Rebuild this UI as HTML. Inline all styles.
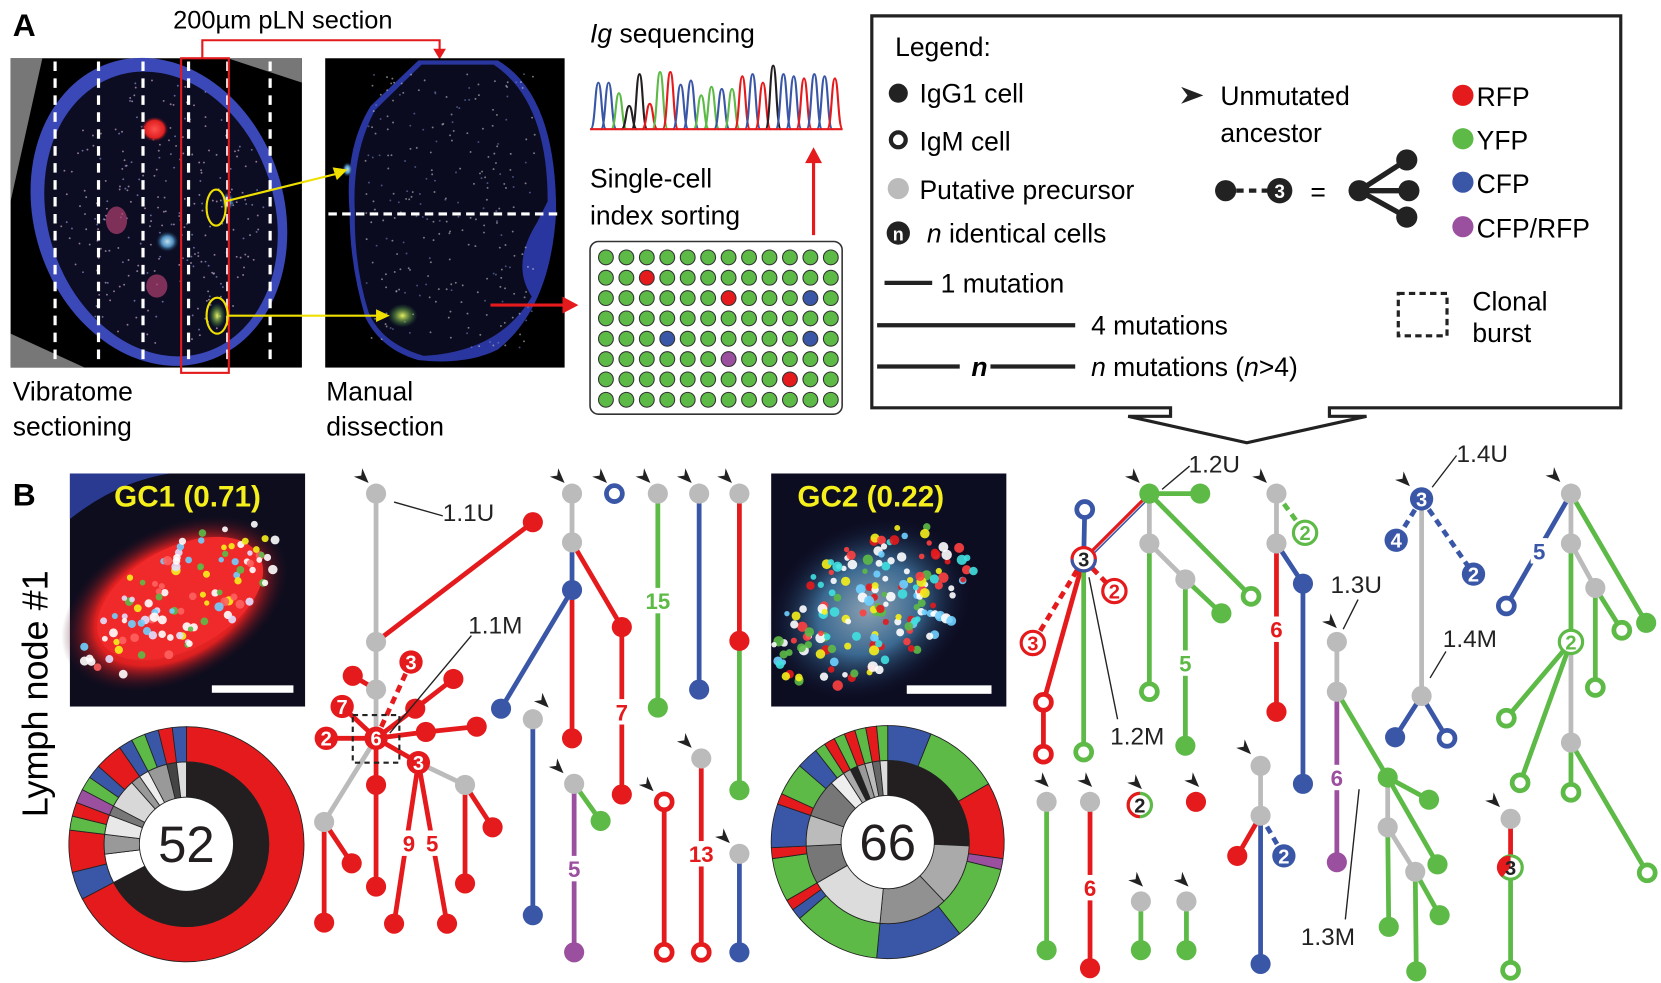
<!DOCTYPE html>
<html><head><meta charset="utf-8"><style>
html,body{margin:0;padding:0;background:#fff;}
svg{display:block;font-family:"Liberation Sans",Arial,sans-serif;}
</style></head><body>
<svg id="fig" width="1661" height="983" viewBox="0 0 1568 928" preserveAspectRatio="none" xmlns="http://www.w3.org/2000/svg">
<defs>
<radialGradient id="gRed" cx="50%" cy="50%" r="50%"><stop offset="0" stop-color="#ff5050"/><stop offset="0.7" stop-color="#e02020"/><stop offset="1" stop-color="#301020" stop-opacity="0"/></radialGradient>
<radialGradient id="gCyan" cx="50%" cy="50%" r="50%"><stop offset="0" stop-color="#c0e0f0"/><stop offset="0.5" stop-color="#4f90c0"/><stop offset="1" stop-color="#102040" stop-opacity="0"/></radialGradient>
<radialGradient id="gYel" cx="50%" cy="50%" r="50%"><stop offset="0" stop-color="#e8f060"/><stop offset="1" stop-color="#30a040" stop-opacity="0"/></radialGradient>
</defs>

<!-- Panel A -->
<text x="12" y="34" font-size="30" font-weight="bold">A</text>
<text x="267" y="27" font-size="24" text-anchor="middle">200µm pLN section</text>

<g>
<rect x="10" y="55" width="275" height="292" fill="#000"/>
<polygon points="10,55 40,55 10,190" fill="#777"/>
<polygon points="215,55 285,55 285,78" fill="#777"/>
<polygon points="10,315 10,347 80,347" fill="#777"/>
<ellipse cx="150" cy="200" rx="118" ry="148" transform="rotate(-18 150 200)" fill="#3a48b8"/>
<ellipse cx="152" cy="202" rx="107" ry="137" transform="rotate(-18 152 202)" fill="#0c0c22"/>
<g id="vibdots"></g>
<ellipse cx="146" cy="122" rx="13" ry="12" fill="url(#gRed)"/>
<ellipse cx="110" cy="208" rx="10" ry="13" fill="#b04070" opacity="0.7"/>
<ellipse cx="158" cy="228" rx="11" ry="10" fill="url(#gCyan)"/>
<ellipse cx="148" cy="270" rx="10" ry="11" fill="#b04070" opacity="0.7"/>
<ellipse cx="205" cy="298" rx="8" ry="12" fill="url(#gYel)"/>
<ellipse cx="215" cy="190" rx="6" ry="9" fill="url(#gCyan)"/>
<g stroke="#fff" stroke-width="3" stroke-dasharray="9,7">
<line x1="52" y1="58" x2="52" y2="345"/><line x1="93" y1="58" x2="93" y2="345"/><line x1="135" y1="58" x2="135" y2="345"/><line x1="178" y1="58" x2="178" y2="345"/><line x1="215" y1="58" x2="215" y2="345"/><line x1="255" y1="58" x2="255" y2="345"/>
</g>
<rect x="171" y="55" width="45" height="297" fill="none" stroke="#e41a1c" stroke-width="2"/>
<ellipse cx="204" cy="196" rx="9" ry="17" fill="none" stroke="#f0e000" stroke-width="2"/>
<ellipse cx="205" cy="298" rx="10" ry="17" fill="none" stroke="#f0e000" stroke-width="2"/>
</g>
<polyline points="191,55 191,38 415,38 415,48" fill="none" stroke="#e41a1c" stroke-width="2"/>
<polygon points="409,46 421,46 415,56" fill="#e41a1c"/>

<g>
<rect x="307" y="55" width="226" height="292" fill="#000"/>
<path d="M395,57 L470,57 Q525,90 525,200 Q520,290 470,330 Q440,345 395,340 Q360,330 345,300 Q330,250 330,200 Q325,140 350,100 Z" fill="#2a36a0"/>
<path d="M398,61 L466,61 Q517,95 517,190 L507,210 Q482,250 502,280 Q472,332 400,336 Q360,324 348,295 Q334,250 335,200 Q332,145 354,104 Z" fill="#0b0b20"/>
<g id="disdots"></g>
<ellipse cx="380" cy="298" rx="14" ry="11" fill="url(#gYel)"/>
<ellipse cx="328" cy="160" rx="5" ry="7" fill="url(#gCyan)"/>
<line x1="310" y1="202" x2="531" y2="202" stroke="#fff" stroke-width="3" stroke-dasharray="8,5"/>
</g>
<g stroke="#f0e000" stroke-width="2" fill="#f0e000">
<line x1="213" y1="190" x2="318" y2="164"/><polygon points="328,160 314,158 318,170" stroke="none"/>
<line x1="215" y1="298" x2="356" y2="298"/><polygon points="368,298 355,292 355,304" stroke="none"/>
</g>
<line x1="463" y1="288" x2="533" y2="288" stroke="#e41a1c" stroke-width="3"/>
<polygon points="546,288 531,280 531,296" fill="#e41a1c"/>

<text font-size="25"><tspan x="12" y="378">Vibratome</tspan><tspan x="12" y="411">sectioning</tspan></text>
<text font-size="25"><tspan x="308" y="378">Manual</tspan><tspan x="308" y="411">dissection</tspan></text>
<text x="557" y="40" font-size="25"><tspan font-style="italic">Ig</tspan> sequencing</text>
<g id="chrom"></g>
<line x1="768" y1="222" x2="768" y2="152" stroke="#e41a1c" stroke-width="3"/>
<polygon points="768,139 760,154 776,154" fill="#e41a1c"/>
<text font-size="25"><tspan x="557" y="177">Single-cell</tspan><tspan x="557" y="212">index sorting</tspan></text>
<rect x="557" y="228" width="238" height="163" rx="8" fill="#fff" stroke="#333" stroke-width="1.5"/>
<g id="plate"></g>

<!-- Legend box -->
<path d="M1105,385 L823,385 L823,15 L1530,15 L1530,385 L1255,385 L1255,393 L1290,393 L1177,418 L1065,393 L1105,393 Z" fill="#fff" stroke="#222" stroke-width="3"/>
<g font-size="25">
<text x="845" y="53">Legend:</text>
<circle cx="848" cy="88" r="9" fill="#222"/><text x="868" y="97">IgG1 cell</text>
<circle cx="848" cy="132" r="7" fill="none" stroke="#222" stroke-width="4"/><text x="868" y="142">IgM cell</text>
<circle cx="848" cy="178" r="10" fill="#bbb"/><text x="868" y="188">Putative precursor</text>
<circle cx="848" cy="220" r="11" fill="#222"/><text x="848" y="227" font-size="17" font-weight="bold" fill="#fff" text-anchor="middle">n</text>
<text x="875" y="229"><tspan font-style="italic">n</tspan> identical cells</text>
<line x1="835" y1="267" x2="880" y2="267" stroke="#222" stroke-width="4"/><text x="888" y="276">1 mutation</text>
<line x1="828" y1="307" x2="1015" y2="307" stroke="#222" stroke-width="4"/><text x="1030" y="316">4 mutations</text>
<line x1="828" y1="346" x2="906" y2="346" stroke="#222" stroke-width="4"/><text x="917" y="355" font-weight="bold" font-style="italic">n</text><line x1="935" y1="346" x2="1015" y2="346" stroke="#222" stroke-width="4"/>
<text x="1030" y="355"><tspan font-style="italic">n</tspan> mutations (<tspan font-style="italic">n</tspan>&gt;4)</text>
<polygon points="1115,82 1136,90 1115,98 1121,90" fill="#222"/>
<text x="1152" y="99">Unmutated</text><text x="1152" y="134">ancestor</text>
<circle cx="1157" cy="180" r="10" fill="#222"/>
<line x1="1167" y1="180" x2="1197" y2="180" stroke="#222" stroke-width="4" stroke-dasharray="7,5"/>
<circle cx="1208" cy="180" r="12" fill="#222"/><text x="1208" y="187" font-size="18" font-weight="bold" fill="#fff" text-anchor="middle">3</text>
<text x="1237" y="190" font-size="25">=</text>
<line x1="1283" y1="180" x2="1328" y2="151" stroke="#222" stroke-width="5"/><line x1="1283" y1="180" x2="1330" y2="180" stroke="#222" stroke-width="5"/><line x1="1283" y1="180" x2="1328" y2="205" stroke="#222" stroke-width="5"/>
<circle cx="1283" cy="180" r="10" fill="#222"/><circle cx="1328" cy="151" r="10" fill="#222"/><circle cx="1330" cy="180" r="10" fill="#222"/><circle cx="1328" cy="205" r="10" fill="#222"/>
<circle cx="1381" cy="90" r="10" fill="#e41a1c"/><text x="1394" y="100">RFP</text>
<circle cx="1381" cy="131" r="10" fill="#5dba47"/><text x="1394" y="141">YFP</text>
<circle cx="1381" cy="172" r="10" fill="#3a57a7"/><text x="1394" y="182">CFP</text>
<circle cx="1381" cy="214" r="10" fill="#9b4f9f"/><text x="1394" y="224">CFP/RFP</text>
<rect x="1320" y="277" width="46" height="40" fill="none" stroke="#222" stroke-width="3" stroke-dasharray="6,4"/>
<text x="1390" y="293">Clonal</text><text x="1390" y="323">burst</text>
</g>

<!-- Panel B -->
<text x="12" y="477" font-size="30" font-weight="bold">B</text>
<text transform="translate(45,655) rotate(-90)" font-size="34" text-anchor="middle">Lymph node #1</text>

<g>
<rect x="66" y="447" width="222" height="220" fill="#0d0d1e"/>
<path d="M66,490 Q110,455 160,447 L66,447 Z" fill="#2a3a90"/>
<ellipse cx="165" cy="570" rx="115" ry="72" transform="rotate(-28 165 570)" fill="url(#gRed)"/>
<ellipse cx="170" cy="565" rx="85" ry="48" transform="rotate(-28 170 565)" fill="#f02a2a"/>
<g id="gc1dots"></g>
<rect x="200" y="647" width="77" height="7" fill="#fff"/>
<text x="177" y="478" font-size="28" font-weight="bold" fill="#f5ef1c" text-anchor="middle">GC1 (0.71)</text>
</g>
<g>
<rect x="728" y="447" width="222" height="220" fill="#0d0d22"/>
<ellipse cx="820" cy="575" rx="100" ry="80" transform="rotate(-30 820 575)" fill="url(#gCyan)" opacity="0.7"/>
<g id="gc2dots"></g>
<rect x="856" y="647" width="80" height="8" fill="#fff"/>
<text x="822" y="478" font-size="28" font-weight="bold" fill="#f5ef1c" text-anchor="middle">GC2 (0.22)</text>
</g>

<g id="donut1"></g>
<g id="donut2"></g>
<g id="trees"></g>
</svg>

<script>
// ---- Donut data ----
const d1OuterColors = ['R','B','R','G','R','P','G','B','R','B','G','B','R','B'];
const d1OuterValues = [35,2,3,1,1,1,1,1,2,1,1,1,1,1];
const d1InnerColors = ['#231f20','#ffffff','#999999','#e8e8e8','#777777','#d8d8d8','#999999','#eeeeee','#999999','#444444','#dddddd'];
const d1InnerValues = [35,3,2,2,1,3,1,1,2,1,1];
const d1Total = 52;
const d2OuterColors = ['B','G','R','P','G','B','G','B','R','G','R','B','R','G','B','G','R','G','R','G','R','G'];
const d2OuterValues = [4,7,7,1,7,8,8,1,1,4,1,4,1,3,2,1,1,1,1,1,1,1];
const d2InnerColors = ['#231f20','#aaaaab','#919191','#dddcdc','#777777','#bbbbbb','#777777','#eeeeee','#aaaaaa','#222222','#999999','#bbbbbb','#666666','#dddddd'];
const d2InnerValues = [17,8,9,10,5,4,5,2,1,1,1,1,1,1];
const d2Total = 66;

const COL = {R:'#e41a1c',G:'#5dba47',B:'#3a57a7',P:'#9b4f9f',K:'#231f20',Y:'#bbbbbb'};
const NS = 'http://www.w3.org/2000/svg';
function mk(tag, attrs, parent){const e=document.createElementNS(NS,tag);for(const k in attrs)e.setAttribute(k,attrs[k]);parent.appendChild(e);return e;}

function arc(cx,cy,r0,r1,a0,a1){
  const p=(r,a)=>[cx+r*Math.sin(a),cy-r*Math.cos(a)];
  const large=(a1-a0)>Math.PI?1:0;
  const [x0,y0]=p(r1,a0),[x1,y1]=p(r1,a1),[x2,y2]=p(r0,a1),[x3,y3]=p(r0,a0);
  return `M${x0},${y0} A${r1},${r1} 0 ${large} 1 ${x1},${y1} L${x2},${y2} A${r0},${r0} 0 ${large} 0 ${x3},${y3} Z`;
}
function ring(g,cx,cy,r0,r1,vals,cols,total){
  let a=0;
  vals.forEach((v,i)=>{
    const a1=a+v/total*2*Math.PI;
    const c=COL[cols[i]]||cols[i];
    const s=mk('path',{d:arc(cx,cy,r0,r1,a,a1),fill:c,stroke:'#222','stroke-width':0.8},g);
    
    
    a=a1;
  });
}
function donut(id,cx,cy,R,outV,outC,inV,inC,total){
  const g=document.getElementById(id);
  ring(g,cx,cy,R*0.70,R,outV,outC,total);
  ring(g,cx,cy,R*0.40,R*0.70,inV,inC,total);
  mk('circle',{cx:cx,cy:cy,r:R*0.40,fill:'#fff',stroke:'#222','stroke-width':0.8},g);
  const t=mk('text',{x:cx,y:cy+17,'font-size':48,'text-anchor':'middle',fill:'#231f20'},g);
  t.textContent=total;
  
  
}
donut('donut1',176,797,111,d1OuterValues,d1OuterColors,d1InnerValues,d1InnerColors,d1Total);
donut('donut2',838,795,110,d2OuterValues,d2OuterColors,d2InnerValues,d2InnerColors,d2Total);

// ---- chromatogram ----
const chromColors=['B','B','G','K','K','R','G','R','B','B','G','G','B','G','R','B','R','K','B','B','R','B','B','R'];
const chromHeights=[44,44,34,22,52,24,54,54,42,46,32,40,38,38,50,52,44,60,52,50,48,52,50,48];
(function(){
  const g=document.getElementById('chrom');
  const x0=560,x1=793,base=122,n=chromColors.length,step=(x1-x0)/n;
  chromColors.forEach((c,i)=>{
    const cx=x0+step*(i+0.5),h=chromHeights[i],w=step*0.75;
    const p=mk('path',{d:`M${cx-w},${base} C${cx-w*0.4},${base} ${cx-w*0.45},${base-h} ${cx},${base-h} C${cx+w*0.45},${base-h} ${cx+w*0.4},${base} ${cx+w},${base}`,fill:'none',stroke:COL[c],'stroke-width':2},g);
    
    
  });
  mk('line',{x1:557,y1:base,x2:795,y2:base,stroke:'#e41a1c','stroke-width':2},g);
})();

// ---- plate ----
const plateSpecial={'1,2':'R','2,6':'R','2,10':'B','4,3':'B','4,10':'B','5,6':'P','6,9':'R'};
(function(){
  const g=document.getElementById('plate');
  for(let r=0;r<8;r++)for(let c=0;c<12;c++){
    const col=COL[plateSpecial[r+','+c]||'G'];
    const w=mk('circle',{cx:572+c*19.3,cy:243+r*19.2,r:7,fill:col,stroke:'#333','stroke-width':1},g);
    
    
  }
})();

// ---- image texture dots ----
(function(){
  let s=7;
  const rnd=()=>{s=(s*9301+49297)%233280;return s/233280;};
  const cols=['#fff','#f5ef1c','#5dba47','#ff6060','#fff','#e0e0ff','#6fd0ff'];
  const g1=document.getElementById('gc1dots');
  for(let i=0;i<110;i++){
    const a=rnd()*Math.PI*2,rr=Math.sqrt(rnd());
    const x=170+Math.cos(a)*rr*95, y=565+Math.sin(a)*rr*55;
    mk('circle',{cx:x,cy:y-(x-170)*0.5,r:2.5+rnd()*2,fill:cols[i%7],opacity:0.9},g1);
  }
  const g2=document.getElementById('gc2dots');
  const cols2=['#fff','#f5ef1c','#5dba47','#ff4040','#6fd0ff','#ffffff','#40e0e0','#e41a1c'];
  for(let i=0;i<180;i++){
    const a=rnd()*Math.PI*2,rr=Math.sqrt(rnd());
    const x=825+Math.cos(a)*rr*95, y=575+Math.sin(a)*rr*70;
    mk('circle',{cx:x,cy:y-(x-825)*0.4,r:2.5+rnd()*2.5,fill:cols2[i%8],opacity:0.9},g2);
  }
  const gv=document.getElementById('vibdots');
  for(let i=0;i<260;i++){
    const a=rnd()*Math.PI*2,rr=Math.sqrt(rnd());
    mk('circle',{cx:152+Math.cos(a)*rr*100,cy:202+Math.sin(a)*rr*128,r:0.9,fill:i%3?'#c8a8c8':'#8890d0',opacity:0.7},gv);
  }
  const gd=document.getElementById('disdots');
  for(let i=0;i<260;i++){
    mk('circle',{cx:345+rnd()*160,cy:70+rnd()*260,r:0.9,fill:i%3?'#c8c8c8':'#7080c0',opacity:0.6},gd);
  }
})();

// ---- trees ----
const T=document.getElementById('trees');
function edge(x1,y1,x2,y2,c,dash,w){
  const l=mk('line',{x1,y1,x2,y2,stroke:COL[c],'stroke-width':w||4.5},T);
  if(dash)l.setAttribute('stroke-dasharray','7,5');
  
  
}
function node(x,y,c,ring,label,r){
  r=r||9.5;
  let n;
  if(ring) n=mk('circle',{cx:x,cy:y,r:label?r+1.5:r-2,fill:'#fff',stroke:COL[c],'stroke-width':label?3:4.5},T);
  else n=mk('circle',{cx:x,cy:y,r:label?r+1.5:r,fill:COL[c]},T);
  
  
  if(label){
    const t=mk('text',{x:x,y:y+7,'font-size':19,'font-weight':'bold','text-anchor':'middle',fill:ring?COL[c]:'#fff'},T);
    t.textContent=label;
  }
}
function mlab(x,y,c,txt){
  mk('rect',{x:x-8,y:y-12,width:16,height:24,fill:'#fff'},T);
  const t=mk('text',{x:x,y:y+8,'font-size':21,'font-weight':'bold','text-anchor':'middle',fill:COL[c]},T);
  t.textContent=txt;
}
function arrowHead(x,y){
  const a=mk('polygon',{points:`${x},${y} ${x-14},${y-6} ${x-7},${y-7} ${x-6},${y-14}`,fill:'#222'},T);
  
  
}
function lab(x,y,txt){const t=mk('text',{x,y,'font-size':23,fill:'#222'},T);t.textContent=txt;}
function lead(x1,y1,x2,y2){mk('line',{x1,y1,x2,y2,stroke:'#222','stroke-width':1.3},T);}

// Tree 1.1
edge(355,466,355,697,'Y');
edge(355,606,503,493,'R');
edge(333,638,355,651,'R');
edge(355,697,323,667,'R');edge(355,697,308,697,'R');
edge(355,697,388,625,'R',true);
edge(355,697,392,669,'R');edge(392,669,428,641,'R');
edge(355,697,402,691,'R');edge(402,691,450,686,'R');
edge(355,697,355,837,'R');
edge(355,697,306,776,'Y');edge(306,776,306,871,'R');edge(306,776,332,815,'R');
edge(355,697,395,720,'R');
edge(395,720,439,741,'Y');edge(439,741,439,834,'R');edge(439,741,465,781,'R');
edge(395,720,372,872,'R');edge(395,720,422,872,'R');
node(355,466,'Y');node(355,606,'Y');node(355,651,'Y');
node(503,493,'R');node(333,638,'R');node(428,641,'R');node(392,669,'R');node(402,691,'R');node(450,686,'R');
node(355,741,'R');node(355,837,'R');node(306,776,'Y');node(306,871,'R');node(332,815,'R');
node(439,741,'Y');node(439,834,'R');node(465,781,'R');node(372,872,'R');node(422,872,'R');
node(323,667,'R',false,'7');node(308,697,'R',false,'2');node(388,625,'R',false,'3');node(395,720,'R',false,'3');
node(355,697,'R',false,'6');
mk('rect',{x:333,y:675,width:44,height:45,fill:'none',stroke:'#222','stroke-width':2,'stroke-dasharray':'5,4'},T);
mlab(386,796,'R','9');mlab(408,796,'R','5');
arrowHead(348,456);
lab(418,492,'1.1U');lead(372,474,418,487);
lab(442,598,'1.1M');lead(445,600,368,692);

// column trees
edge(540,466,540,512,'Y');edge(540,512,540,557,'B');edge(540,512,587,592,'R');edge(587,592,587,750,'R');
edge(540,557,473,669,'B');edge(540,557,540,697,'R');
node(540,466,'Y');node(540,512,'Y');node(540,557,'B');node(587,592,'R');node(587,750,'R');node(473,669,'B');node(540,697,'R');
mlab(587,672,'R','7');arrowHead(533,456);
node(580,466,'B',true);arrowHead(573,456);
edge(621,466,621,668,'G');node(621,466,'Y');node(621,668,'G');mlab(621,567,'G','15');arrowHead(614,456);
edge(660,466,660,651,'B');node(660,466,'Y');node(660,651,'B');arrowHead(653,456);
edge(698,466,698,605,'R');edge(698,605,698,746,'G');node(698,466,'Y');node(698,605,'R');node(698,746,'G');arrowHead(691,456);
edge(503,679,503,864,'B');node(503,679,'Y');node(503,864,'B');arrowHead(518,668);
edge(542,740,542,899,'P');edge(542,740,567,775,'G');node(542,740,'Y');node(542,899,'P');node(567,775,'G');mlab(542,820,'P','5');arrowHead(532,730);
edge(627,757,627,899,'R');node(627,757,'R',true);node(627,899,'R',true);arrowHead(617,747);
edge(662,716,662,899,'R');node(662,716,'Y');node(662,899,'R',true);mlab(662,806,'R','13');arrowHead(653,706);
edge(698,806,698,899,'B');node(698,806,'Y');node(698,899,'B');arrowHead(689,796);

// Tree 1.2
edge(1085,466,1133,466,'G');
edge(1085,466,1085,513,'Y');edge(1085,513,1119,547,'Y');
edge(1085,513,1085,653,'G');edge(1119,547,1153,579,'G');edge(1119,547,1119,704,'G');
edge(1085,466,1181,563,'G');
edge(1085,466,1023,528,'R',false,3);edge(1087,468,1025,530,'B',false,1.5);
edge(1023,528,1024,481,'B');
edge(1023,528,975,607,'R',true);
edge(1023,528,985,663,'R');edge(985,663,985,712,'R');
edge(1023,528,1050,556,'R',true);
edge(1023,528,1023,710,'G');
node(1085,466,'G');node(1133,466,'G');node(1085,513,'Y');node(1119,547,'Y');node(1085,653,'G',true);
node(1153,579,'G');node(1119,704,'G');node(1181,563,'G',true);node(1024,481,'B',true);
node(985,663,'R',true);node(985,712,'R',true);node(1023,710,'G',true);
node(975,607,'R',true,'3');node(1052,558,'R',true,'2');
mk('circle',{cx:1023,cy:528,r:11,fill:'#fff',stroke:'#e41a1c','stroke-width':3},T);
mk('path',{d:'M1012,528 A11,11 0 0 0 1034,528',fill:'none',stroke:'#3a57a7','stroke-width':3},T);
mk('text',{x:1023,y:535,'font-size':19,'font-weight':'bold','text-anchor':'middle',fill:'#222'},T).textContent='3';
mlab(1119,626,'G','5');
arrowHead(1076,456);
lab(1122,446,'1.2U');lead(1097,462,1123,440);
lab(1048,703,'1.2M');lead(1055,679,1028,545);

edge(1205,466,1205,513,'Y');edge(1205,466,1232,503,'G',true);edge(1205,513,1205,672,'R');edge(1205,513,1230,551,'B');edge(1230,551,1230,740,'B');
node(1205,466,'Y');node(1205,513,'Y');node(1232,503,'G',true,'2');node(1205,672,'R');node(1230,551,'B');node(1230,740,'B');
mlab(1205,594,'R','6');arrowHead(1196,456);

// bottom row
edge(988,757,988,897,'G');node(988,757,'Y');node(988,897,'G');arrowHead(990,743);
edge(1029,757,1029,914,'R');node(1029,757,'Y');node(1029,914,'R');mlab(1029,838,'R','6');arrowHead(1031,743);
mk('circle',{cx:1076,cy:760,r:11,fill:'#fff',stroke:'#5dba47','stroke-width':3},T);
mk('path',{d:'M1076,749 A11,11 0 0 0 1076,771',fill:'none',stroke:'#e41a1c','stroke-width':3},T);
mk('text',{x:1076,y:767,'font-size':19,'font-weight':'bold','text-anchor':'middle',fill:'#222'},T).textContent='2';
arrowHead(1078,745);
node(1129,757,'R');arrowHead(1132,743);
edge(1077,851,1077,897,'G');node(1077,851,'Y');node(1077,897,'G');arrowHead(1079,837);
edge(1120,851,1120,897,'G');node(1120,851,'Y');node(1120,897,'G');arrowHead(1122,837);
edge(1190,723,1190,770,'Y');edge(1190,770,1168,808,'R');edge(1190,770,1212,808,'B',true);edge(1190,770,1190,910,'B');
node(1190,723,'Y');node(1190,770,'Y');node(1168,808,'R');node(1212,808,'B',false,'2');node(1190,910,'B');arrowHead(1181,712);

// Tree 1.3
edge(1262,606,1262,653,'Y');edge(1262,653,1262,814,'P');edge(1262,653,1310,734,'G');
edge(1310,734,1349,755,'G');edge(1310,734,1310,781,'Y');edge(1310,734,1357,816,'G');
edge(1310,781,1336,823,'Y');edge(1310,781,1311,875,'G');edge(1336,823,1359,864,'G');edge(1336,823,1337,917,'G');
node(1262,606,'Y');node(1262,653,'Y');node(1262,814,'P');node(1310,734,'G');node(1349,755,'G');node(1310,781,'Y');
node(1357,816,'G');node(1336,823,'Y');node(1311,875,'G');node(1359,864,'G');node(1337,917,'G');
mlab(1262,734,'P','6');arrowHead(1262,593);
lab(1256,560,'1.3U');lead(1268,594,1282,566);
lab(1228,892,'1.3M');lead(1283,745,1270,868);

// Tree 1.4
edge(1342,471,1342,657,'Y');edge(1342,471,1318,510,'B',true);edge(1342,471,1391,542,'B',true);
edge(1342,657,1317,696,'B');edge(1342,657,1366,697,'B');
node(1342,471,'B',false,'3');node(1318,510,'B',false,'4');node(1391,542,'B',false,'2');
node(1342,657,'Y');node(1317,696,'B');node(1366,697,'B',true);
arrowHead(1331,459);
lab(1375,436,'1.4U');lead(1352,460,1375,430);
lab(1362,611,'1.4M');lead(1350,640,1365,615);

// right tree
edge(1483,466,1422,572,'B');mlab(1453,520,'B','5');
edge(1483,466,1483,513,'Y');edge(1483,466,1554,588,'G');
edge(1483,513,1506,555,'Y');edge(1506,555,1531,595,'G');edge(1506,555,1506,649,'G');
edge(1483,513,1483,606,'G');edge(1483,606,1483,701,'Y');
edge(1483,606,1422,678,'G');edge(1483,606,1435,739,'G');
edge(1483,701,1483,748,'G');edge(1483,701,1555,824,'G');
node(1483,466,'Y');node(1483,513,'Y');node(1506,555,'Y');node(1554,588,'G');node(1531,595,'G',true);
node(1506,649,'G',true);node(1483,701,'Y');node(1422,678,'G',true);node(1435,739,'G',true);node(1483,748,'G',true);
node(1555,824,'G',true);node(1422,572,'B',true);node(1483,606,'G',true,'2');
arrowHead(1473,455);
// small tree
edge(1426,773,1426,819,'R');edge(1426,819,1426,916,'G');
node(1426,773,'Y');node(1426,916,'G',true);
mk('circle',{cx:1426,cy:819,r:11,fill:'#fff',stroke:'#5dba47','stroke-width':3},T);
mk('path',{d:'M1426,819 L1426,808 A11,11 0 0 0 1418,828 Z',fill:'#e41a1c'},T);
mk('text',{x:1426,y:826,'font-size':19,'font-weight':'bold','text-anchor':'middle',fill:'#222'},T).textContent='3';
arrowHead(1416,762);
</script>
</body></html>
